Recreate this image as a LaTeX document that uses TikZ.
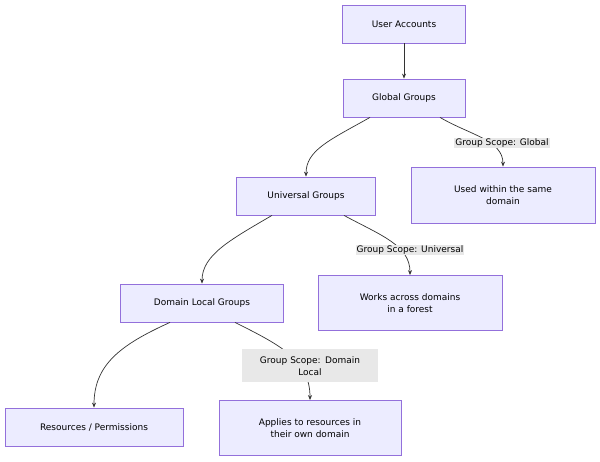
\documentclass[tikz,border=0pt]{standalone}
\usepackage{fontspec}
\setmainfont{DejaVu Sans}
\usetikzlibrary{arrows.meta}
\definecolor{nfill}{HTML}{ECECFF}
\definecolor{nline}{HTML}{9370DB}
\definecolor{lbg}{HTML}{E8E8E8}
\definecolor{edge}{HTML}{333333}
\begin{document}
\begin{tikzpicture}[x=1pt,y=-1pt,
  box/.style={draw=nline,fill=nfill,line width=0.8pt,font=\fontsize{9}{12}\selectfont,align=center,inner sep=0pt},
  lab/.style={fill=lbg,font=\fontsize{9}{12}\selectfont,align=center,inner sep=1pt},
  con/.style={draw=edge,line width=0.7pt,-{Stealth[length=5pt,width=4pt]}}]
\useasboundingbox (0,0) rectangle (600,462);
\node[box,minimum width=123pt,minimum height=38pt] (ua) at (404,24) {User Accounts};
\node[box,minimum width=122pt,minimum height=38pt] (gg) at (404,98) {Global Groups};
\node[box,minimum width=184pt,minimum height=56pt] (used) at (503,195) {Used within the same\\domain};
\node[box,minimum width=139pt,minimum height=38pt] (ug) at (306,196) {Universal Groups};
\node[box,minimum width=184pt,minimum height=55pt] (works) at (410,303) {Works across domains\\in a forest};
\node[box,minimum width=163pt,minimum height=38pt] (dl) at (202,303) {Domain Local Groups};
\node[box,minimum width=178pt,minimum height=38pt] (res) at (94,427) {Resources / Permissions};
\node[box,minimum width=182pt,minimum height=55pt] (app) at (310,428) {Applies to resources in\\their own domain};
\coordinate (a1) at (370,117.4);
\coordinate (a2) at (440,117.4);
\coordinate (b1) at (272,215.4);
\coordinate (b2) at (344,215.4);
\coordinate (c1) at (170,322.4);
\coordinate (c2) at (235,322.4);
\draw[con] (ua) -- (gg);
\draw[con] (a1) .. controls (330,140) and (306,150) .. (ug.north);
\draw[con] (a2) .. controls (470,135) and (503,140) .. (used.north);
\draw[con] (b1) .. controls (230,240) and (202,255) .. (dl.north);
\draw[con] (b2) .. controls (380,235) and (410,245) .. (works.north);
\draw[con] (c1) .. controls (120,345) and (94,365) .. (res.north);
\draw[con] (c2) .. controls (280,345) and (310,360) .. (app.north);
\node[lab] (l1) at (502,143) {Group Scope: Global};
\node[lab] (l2) at (410,250) {Group Scope: Universal};
\node[lab,text width=134pt,minimum height=33pt] (l3) at (310,366) {Group Scope: Domain\\Local};
\end{tikzpicture}
\end{document}
